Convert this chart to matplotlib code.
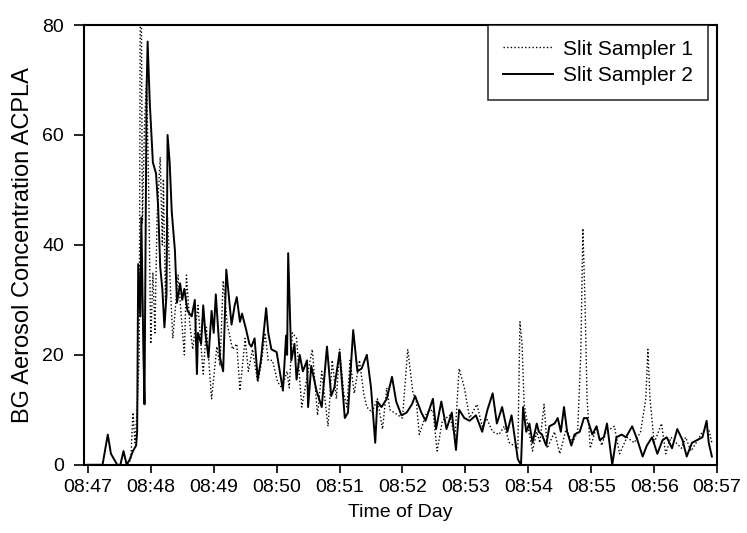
import matplotlib
matplotlib.use("Agg")
import matplotlib.pyplot as plt

# Seconds after 08:47:00 and concentration (ACPLA) for each slit sampler
t_s1 = [0, 38, 41, 43, 45, 47, 49, 50, 51, 52, 54, 56, 58, 60, 62, 64, 66, 69, 71, 72,
        74, 76, 79, 81, 83, 86, 90, 92, 94, 97, 100, 105, 110, 113, 118, 123, 126, 129,
        133, 138, 142, 145, 150, 153, 157, 162, 165, 169, 172, 176, 181, 185, 190, 192,
        195, 199, 202, 204, 209, 214, 219, 223, 229, 233, 237, 240, 244, 247, 250, 254,
        259, 263, 266, 271, 276, 281, 285, 288, 292, 300, 305, 310, 313, 316, 323, 329,
        333, 338, 345, 350, 354, 359, 364, 371, 376, 380, 386, 392, 397, 402, 410, 412,
        414, 416, 421, 424, 428, 431, 435, 438, 445, 450, 456, 462, 467, 470, 472, 474,
        476, 479, 485, 490, 494, 502, 507, 514, 521, 527, 532, 534, 536, 540, 547, 551,
        556, 561, 566, 570, 575, 580, 586, 592, 595]
c_s1 = [0, 0, 1, 9.5, 4, 10, 20, 85, 85, 44, 62, 70, 50, 22, 35, 24, 45, 56, 40, 52,
        30, 45, 31, 23, 27.5, 34.5, 25, 20, 34.5, 26, 21, 29, 16.5, 25, 12, 21.5, 18, 33.5,
        25.5, 21, 22, 13.5, 23, 17, 21, 15, 18, 24, 19, 19, 15, 14, 17, 14,
        24, 23, 15.5, 10.5, 16, 21, 9, 17, 7, 19, 12, 21, 13, 10.5, 19, 13,
        19, 13, 10.5, 9.5, 12, 6.5, 14, 10, 9.5, 8.5, 21, 13, 12, 5.5, 9.5, 10,
        2.5, 8, 9, 5, 17.5, 14, 8.5, 11, 7, 8.5, 6, 5.5, 7, 4, 3, 26,
        22, 11, 5.5, 2.5, 6, 4, 11, 3, 6, 2, 6.5, 4, 6, 20, 43, 30,
        12, 3, 7, 3.5, 6, 7, 2, 5, 4, 6, 12, 21, 12, 4, 7.5, 2,
        5, 4, 3, 5, 2.5, 4, 6, 6.5, 4]

t_s2 = [0, 14, 19, 22, 25, 28, 31, 34, 37, 40, 43, 46, 47, 48, 50, 51, 53, 54, 56, 57,
        59, 62, 65, 67, 69, 71, 73, 75, 76, 78, 80, 83, 85, 88, 90, 92, 95, 99, 102, 104,
        105, 108, 110, 112, 115, 118, 120, 122, 126, 129, 132, 137, 140, 142, 145, 147,
        151, 154, 156, 159, 162, 165, 170, 172, 175, 180, 183, 186, 189, 190, 191, 194,
        197, 199, 202, 205, 209, 210, 213, 218, 223, 228, 232, 235, 240, 245, 248, 253,
        257, 261, 266, 270, 274, 276, 280, 285, 290, 294, 299, 304, 309, 312, 318, 322,
        329, 332, 337, 342, 347, 351, 354, 359, 364, 370, 376, 381, 386, 390, 395, 400,
        404, 407, 410, 413, 415, 418, 421, 424, 428, 430, 433, 437, 440, 445, 448, 451,
        454, 457, 461, 464, 469, 473, 476, 481, 485, 488, 492, 495, 500, 504, 509, 513,
        519, 524, 529, 533, 538, 543, 548, 552, 557, 562, 567, 571, 576, 581, 586, 590,
        592, 595]
c_s2 = [0, 0, 5.5, 2, 1, 0, 0, 2.5, 0, 1, 2.5, 3.5, 6, 36.5, 27, 45, 20, 11, 68, 77,
        66, 55, 53, 47, 36, 32, 25, 31, 60, 55, 46, 39, 29.5, 33, 30, 32, 28, 27, 30, 16.5,
        24, 22, 29, 24, 19.5, 28, 24, 31, 19.5, 17, 35.5, 25.5, 29, 30.5, 26, 27.5,
        24.5, 22, 21.5, 23, 15.5, 19, 28.5, 24, 21, 20.5, 17, 13.5, 23.5, 20, 38.5, 19,
        22, 15.5, 20, 17, 19, 10.5, 18, 13.5, 10.5, 21.5, 12.5, 14, 20.5, 8.5, 9.5, 24.5,
        17, 17.5, 20, 14, 4, 11.5, 10.5, 12, 16, 11.5, 9, 9.5, 11, 12.5, 9.5, 8,
        12, 6.5, 11.5, 6.5, 9.5, 2.7, 10, 8.5, 8, 9, 6, 10, 13, 7.5, 10.5, 6,
        9, 5, 1, 0, 10.5, 6, 7.5, 4, 7.5, 6, 5.5, 3.5, 7, 7.5, 8.5, 6,
        10.5, 6, 3.5, 5.5, 6, 8.5, 8.5, 5.5, 7, 4.5, 5, 7.5, 0, 5, 5.5, 5,
        7, 4.5, 1.5, 3.5, 5, 2, 4.5, 5, 3, 6.5, 4.5, 1.5, 4, 4.5, 5, 8,
        4, 1.5]

tick_seconds = [0, 60, 120, 180, 240, 300, 360, 420, 480, 540, 600]
tick_labels = ["08:47", "08:48", "08:49", "08:50", "08:51", "08:52",
               "08:53", "08:54", "08:55", "08:56", "08:57"]
y_ticks = [0, 20, 40, 60, 80]

plt.rcParams["font.family"] = ["Liberation Sans", "DejaVu Sans"]

fig = plt.figure(figsize=(7.47, 5.33), dpi=100)
ax = fig.add_axes([0.112, 0.128, 0.848, 0.825])

ax.plot(t_s1, c_s1, color="black", linestyle=(0, (1, 1.6)), linewidth=1.0,
        label="Slit Sampler 1")
ax.plot(t_s2, c_s2, color="black", linestyle="-", linewidth=1.4,
        label="Slit Sampler 2")

ax.set_xlim(-4, 600)
ax.set_ylim(0, 80)
ax.set_xticks(tick_seconds)
ax.set_xticklabels(tick_labels)
ax.set_yticks(y_ticks)
ax.tick_params(axis="both", direction="out", width=1.2, labelsize=14,
               top=False, right=False)
ax.tick_params(axis="y", length=7, pad=7)
ax.tick_params(axis="x", length=6, pad=4)
for sp in ax.spines.values():
    sp.set_linewidth(1.5)

ax.set_xlabel("Time of Day", fontsize=14, labelpad=6)
ax.set_ylabel("BG Aerosol Concentration ACPLA", fontsize=17, labelpad=6)

leg = ax.legend(loc="upper right", bbox_to_anchor=(0.985, 1.0), fontsize=15,
                frameon=True, fancybox=False, handlelength=2.4,
                borderpad=0.7, labelspacing=0.35, handletextpad=0.5,
                borderaxespad=0.0)
leg.get_frame().set_edgecolor("black")
leg.get_frame().set_linewidth(1.2)

fig.savefig("out.png", dpi=100)
